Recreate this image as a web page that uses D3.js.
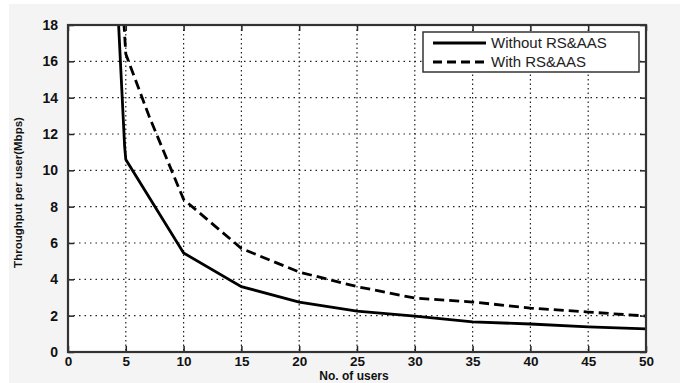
<!DOCTYPE html>
<html>
<head>
<meta charset="utf-8">
<script src="https://cdn.jsdelivr.net/npm/d3@7"></script>
<style>
  body { margin: 0; background: #fff; }
  svg { display: block; }
  .tick text { font-family: "Liberation Sans", Arial, sans-serif; font-weight: bold; font-size: 14px; fill: #111; }
  .xax .tick text { font-size: 13.5px; }
</style>
</head>
<body>
<svg width="685" height="383"></svg>
<script>
// users on x axis, throughput per user (Mbps) on y
const xTicks = [0, 5, 10, 15, 20, 25, 30, 35, 40, 45, 50];
const yTicks = [0, 2, 4, 6, 8, 10, 12, 14, 16, 18];

const usersWithout = [4.3, 4.9, 5, 10, 15, 20, 25, 30, 35, 40, 45, 50];
const thrWithout   = [19, 11.3, 10.6, 5.45, 3.6, 2.75, 2.25, 1.98, 1.66, 1.54, 1.38, 1.27];

const usersWith = [4.75, 5, 7, 10, 15, 20, 25, 30, 35, 40, 45, 50];
const thrWith   = [19, 16.4, 13.0, 8.4, 5.7, 4.4, 3.6, 2.97, 2.75, 2.42, 2.2, 1.98];

const seriesNames = ["Without RS&AAS", "With RS&AAS"];

const svg = d3.select("svg");

// grey figure background
svg.append("rect").attr("x", 9).attr("y", 4).attr("width", 671).attr("height", 379).attr("fill", "#f4f4f4");

const margin = {top: 25, right: 39, bottom: 31, left: 68};
const width = 685 - margin.left - margin.right;
const height = 383 - margin.top - margin.bottom;

const g = svg.append("g").attr("transform", "translate(" + margin.left + "," + margin.top + ")");

let x = d3.scaleLinear().domain([0, 50]).range([0, width]);
let y = d3.scaleLinear().domain([0, 18]).range([height, 0]);

g.append("rect").attr("width", width).attr("height", height).attr("fill", "#fff");

// dotted grid
g.selectAll(".vgrid").data(xTicks.slice(1, -1)).enter().append("line")
    .attr("x1", d => x(d)).attr("x2", d => x(d))
    .attr("y1", 0).attr("y2", height)
    .attr("stroke", "#222").attr("stroke-width", 1.2).attr("stroke-dasharray", "1.5,3");
g.selectAll(".hgrid").data(yTicks.slice(1, -1)).enter().append("line")
    .attr("y1", d => y(d)).attr("y2", d => y(d))
    .attr("x1", 0).attr("x2", width)
    .attr("stroke", "#222").attr("stroke-width", 1.2).attr("stroke-dasharray", "1.5,4");

g.append("clipPath").attr("id", "clip").append("rect").attr("width", width).attr("height", height);

const line = d3.line().x(d => x(d[0])).y(d => y(d[1]));

g.append("path")
    .datum(d3.zip(usersWithout, thrWithout))
    .attr("clip-path", "url(#clip)")
    .attr("fill", "none").attr("stroke", "#000").attr("stroke-width", 2.8)
    .attr("d", line);

g.append("path")
    .datum(d3.zip(usersWith, thrWith))
    .attr("clip-path", "url(#clip)")
    .attr("fill", "none").attr("stroke", "#000").attr("stroke-width", 2.8)
    .attr("stroke-dasharray", "10,5")
    .attr("d", line);

// axes, ticks pointing inward on all four sides
function styleAxis(sel) {
    sel.select(".domain").remove();
    sel.selectAll(".tick line").attr("stroke", "#222").attr("stroke-width", 1.5);
}
g.append("g").attr("class", "xax").attr("transform", "translate(0," + height + ")")
    .call(d3.axisBottom(x).tickValues(xTicks).tickSize(-6).tickPadding(4))
    .call(styleAxis);
g.append("g")
    .call(d3.axisTop(x).tickValues(xTicks).tickSize(-6).tickFormat(""))
    .call(styleAxis);
g.append("g")
    .call(d3.axisLeft(y).tickValues(yTicks).tickSize(-6).tickPadding(10))
    .call(styleAxis);
g.append("g").attr("transform", "translate(" + width + ",0)")
    .call(d3.axisRight(y).tickValues(yTicks).tickSize(-6).tickFormat(""))
    .call(styleAxis);

g.append("rect").attr("width", width).attr("height", height)
    .attr("fill", "none").attr("stroke", "#333").attr("stroke-width", 2.2);

// legend
const lg = g.append("g").attr("transform", "translate(" + (423 - margin.left) + "," + (32 - margin.top) + ")");
lg.append("rect").attr("width", 216).attr("height", 40).attr("fill", "#fff").attr("stroke", "#333").attr("stroke-width", 1.5);
seriesNames.forEach((name, i) => {
    lg.append("line").attr("x1", 10).attr("x2", 63).attr("y1", 11 + i * 19).attr("y2", 11 + i * 19)
        .attr("stroke", "#000").attr("stroke-width", 2.8)
        .attr("stroke-dasharray", i === 1 ? "9,5" : null);
    lg.append("text").attr("x", 68).attr("y", 16 + i * 19)
        .attr("font-family", "Liberation Sans, Arial, sans-serif").attr("font-size", 15).attr("fill", "#222")
        .text(name);
});

// axis titles
svg.append("text")
    .attr("transform", "translate(22," + (margin.top + height / 2 + 4) + ") rotate(-90)")
    .attr("text-anchor", "middle")
    .attr("font-family", "Liberation Sans, Arial, sans-serif").attr("font-weight", "bold").attr("font-size", 11.5)
    .attr("fill", "#111")
    .text("Throughput per user(Mbps)");
svg.append("text")
    .attr("x", 354).attr("y", 380.3)
    .attr("text-anchor", "middle")
    .attr("font-family", "Liberation Sans, Arial, sans-serif").attr("font-weight", "bold").attr("font-size", 12)
    .attr("fill", "#111")
    .text("No. of users");
</script>
</body>
</html>
